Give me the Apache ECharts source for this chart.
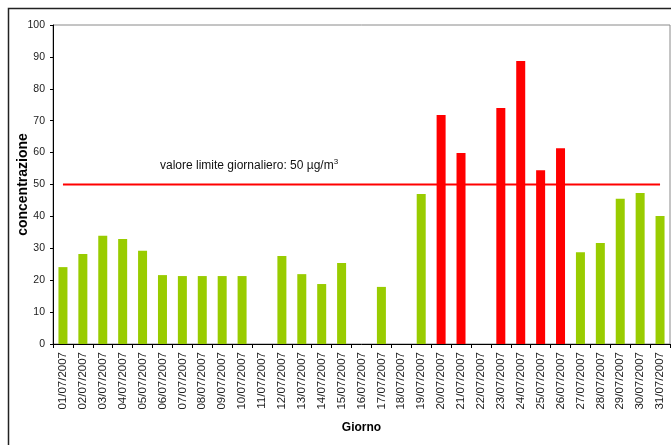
<!DOCTYPE html>
<html>
<head>
<meta charset="utf-8">
<script src="https://cdn.jsdelivr.net/npm/echarts@6/dist/echarts.min.js"></script>
<style>
html,body{margin:0;padding:0;background:#fff;}
#c{width:671px;height:445px;}
</style>
</head>
<body>
<div id="c"></div>
<script>
const categories = [
  "01/07/2007","02/07/2007","03/07/2007","04/07/2007","05/07/2007","06/07/2007","07/07/2007",
  "08/07/2007","09/07/2007","10/07/2007","11/07/2007","12/07/2007","13/07/2007","14/07/2007",
  "15/07/2007","16/07/2007","17/07/2007","18/07/2007","19/07/2007","20/07/2007","21/07/2007",
  "22/07/2007","23/07/2007","24/07/2007","25/07/2007","26/07/2007","27/07/2007","28/07/2007",
  "29/07/2007","30/07/2007","31/07/2007"
];
const concentrazione = [
  24.1, 28.2, 33.9, 32.9, 29.2, 21.6, 21.3, 21.3, 21.3, 21.3, null, 27.6, 21.9, 18.8,
  25.4, null, 17.9, null, 47.0, 71.8, 59.9, null, 74.0, 88.7, 54.5, 61.4, 28.8, 31.7,
  45.5, 47.3, 40.1
];
const limiteGiornaliero = 50;
const limiteSeries = categories.map(() => limiteGiornaliero);
const yTicks = { min: 0, max: 100, interval: 10 };

const FONT = '"Liberation Sans", Arial, sans-serif';
const chart = echarts.init(document.getElementById('c'), null, { renderer: 'canvas' });
chart.setOption({
  animation: false,
  backgroundColor: '#fff',
  grid: { left: 53, top: 25, right: 1, bottom: 101, containLabel: false, outerBoundsMode: 'none',
          show: true, borderColor: '#8a8a8a', borderWidth: 1 },
  graphic: [
    { type: 'rect', shape: { x: 8.5, y: 8.5, width: 700, height: 500 }, style: { fill: null, stroke: '#222', lineWidth: 1.5 }, silent: true },
    { type: 'text', left: 160, top: 158, style: {
        text: '{a|valore limite giornaliero: ' + limiteGiornaliero + ' µg/m}{s|3}',
        rich: {
          a: { fontSize: 12, fontFamily: FONT, fill: '#111' },
          s: { fontSize: 8, fontFamily: FONT, fill: '#111', verticalAlign: 'top', padding: [0,0,8,0] }
        }
      } }
  ],
  xAxis: {
    type: 'category',
    data: categories,
    boundaryGap: true,
    name: 'Giorno',
    nameLocation: 'middle',
    nameGap: 78,
    nameMoveOverlap: false,
    nameTextStyle: { fontFamily: FONT, fontSize: 12, fontWeight: 'bold', color: '#000' },
    axisLine: { lineStyle: { color: '#000', width: 1 } },
    axisTick: { show: true, length: 4, interval: 0, lineStyle: { color: '#000' } },
    axisLabel: { interval: 0, rotate: 90, margin: 8, fontFamily: FONT, fontSize: 11.5, color: '#222' },
    splitLine: { show: false }
  },
  yAxis: {
    type: 'value',
    min: yTicks.min, max: yTicks.max, interval: yTicks.interval,
    name: 'concentrazione',
    nameLocation: 'middle',
    nameGap: 23,
    nameMoveOverlap: false,
    nameTextStyle: { fontFamily: FONT, fontSize: 14, fontWeight: 'bold', color: '#000' },
    axisLine: { show: true, lineStyle: { color: '#000', width: 1 } },
    axisTick: { show: true, length: 3, lineStyle: { color: '#000' } },
    axisLabel: { margin: 8, fontFamily: FONT, fontSize: 10.5, color: '#222' },
    splitLine: { show: false }
  },
  series: [
    {
      type: 'bar',
      data: concentrazione,
      barWidth: 9,
      itemStyle: { color: p => (p.value > limiteGiornaliero ? '#ff0000' : '#99cc00') },
      z: 2
    },
    {
      type: 'line',
      data: limiteSeries,
      symbol: 'none',
      lineStyle: { color: '#ff0000', width: 2 },
      z: 3
    }
  ]
});
</script>
</body>
</html>
